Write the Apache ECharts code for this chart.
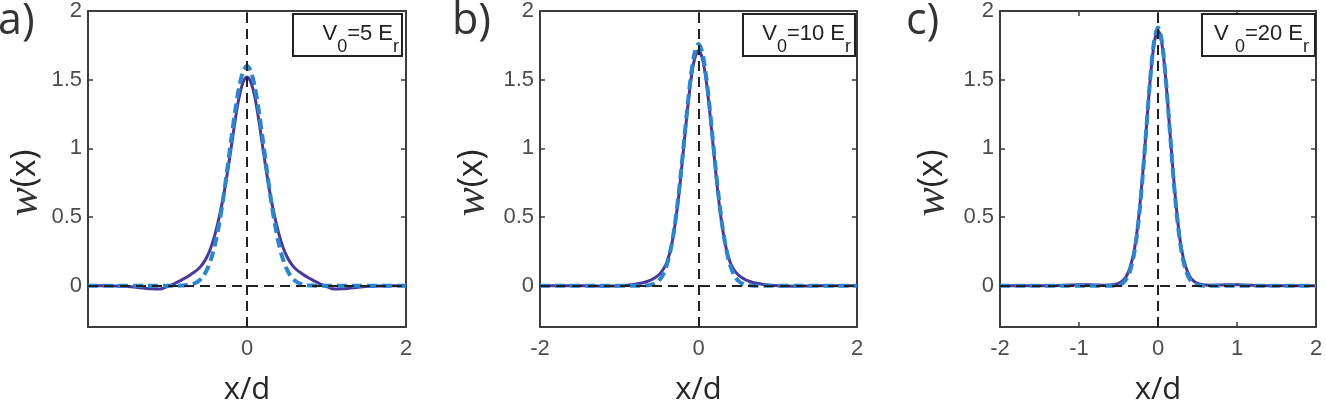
<!DOCTYPE html>
<html><head><meta charset="utf-8">
<script src="https://cdn.jsdelivr.net/npm/echarts@6/dist/echarts.min.js"></script>
<style>html,body{margin:0;padding:0;background:#fff}#c{width:1326px;height:405px}</style>
</head><body><div id="c"></div><script>
// ---- data ----
const xs = [-2,-1.9,-1.8,-1.7,-1.6,-1.5,-1.4,-1.3,-1.2,-1.1,
  -1,-0.95,-0.9,-0.85,-0.8,-0.75,-0.7,-0.65,-0.6,-0.55,-0.5,-0.45,-0.4,-0.35,-0.3,-0.25,-0.2,-0.15,-0.1,-0.05,
  0,
  0.05,0.1,0.15,0.2,0.25,0.3,0.35,0.4,0.45,0.5,0.55,0.6,0.65,0.7,0.75,0.8,0.85,0.9,0.95,1,
  1.1,1.2,1.3,1.4,1.5,1.6,1.7,1.8,1.9,2];

// panel a (V0 = 5 Er)
const wannierA = [0,0,0,-0.001,-0.003,-0.006,-0.011,-0.017,-0.022,-0.024,
  -0.005,0.007,0.02,0.034,0.05,0.066,0.085,0.105,0.13,0.165,0.215,0.285,0.38,0.50,0.64,0.81,1.00,1.20,1.37,1.48,
  1.52,
  1.48,1.37,1.20,1.00,0.81,0.64,0.50,0.38,0.285,0.215,0.165,0.13,0.105,0.085,0.066,0.05,0.034,0.02,0.007,-0.005,
  -0.024,-0.022,-0.017,-0.011,-0.006,-0.003,-0.001,0,0,0];
const gaussA = [0,0,0,0,0,0,0,0,0,0,
  0,0,0,0.001,0.002,0.005,0.010,0.020,0.039,0.070,0.121,0.197,0.306,0.451,0.631,0.839,1.058,1.268,1.443,1.559,
  1.6,
  1.559,1.443,1.268,1.058,0.839,0.631,0.451,0.306,0.197,0.121,0.070,0.039,0.020,0.010,0.005,0.002,0.001,0,0,0,
  0,0,0,0,0,0,0,0,0,0];

// panel b (V0 = 10 Er)
const wannierB = [0,0,0,0,0,0,-0.001,-0.002,-0.003,-0.002,
  0,0.002,0.004,0.007,0.011,0.016,0.022,0.031,0.042,0.058,0.08,0.115,0.17,0.27,0.43,0.65,0.93,1.22,1.48,1.65,
  1.71,
  1.65,1.48,1.22,0.93,0.65,0.43,0.27,0.17,0.115,0.08,0.058,0.042,0.031,0.022,0.016,0.011,0.007,0.004,0.002,0,
  -0.002,-0.003,-0.002,-0.001,0,0,0,0,0,0];
const gaussB = [0,0,0,0,0,0,0,0,0,0,
  0,0,0,0,0,0,0.001,0.003,0.007,0.017,0.037,0.077,0.149,0.266,0.439,0.671,0.949,1.244,1.508,1.693,
  1.76,
  1.693,1.508,1.244,0.949,0.671,0.439,0.266,0.149,0.077,0.037,0.017,0.007,0.003,0.001,0,0,0,0,0,0,
  0,0,0,0,0,0,0,0,0,0];

// panel c (V0 = 20 Er)
const wannierC = [0,0,0,0,0,0,0,0.001,0.003,0.006,
  0.008,0.008,0.008,0.007,0.006,0.005,0.004,0.004,0.005,0.009,0.017,0.035,0.07,0.14,0.26,0.47,0.77,1.13,1.49,1.76,
  1.86,
  1.76,1.49,1.13,0.77,0.47,0.26,0.14,0.07,0.035,0.017,0.009,0.005,0.004,0.004,0.005,0.006,0.007,0.008,0.008,0.008,
  0.006,0.003,0.001,0,0,0,0,0,0,0];
const gaussC = [0,0,0,0,0,0,0,0,0,0,
  0,0,0,0,0,0,0,0,0,0.002,0.006,0.018,0.049,0.115,0.241,0.451,0.754,1.125,1.496,1.776,
  1.88,
  1.776,1.496,1.125,0.754,0.451,0.241,0.115,0.049,0.018,0.006,0.002,0,0,0,0,0,0,0,0,0,
  0,0,0,0,0,0,0,0,0,0];

const yTicks = [0, 0.5, 1, 1.5, 2];
const xTicksA = [-2, 0, 2];
const xLabelsA = [0, 2];
const xTicksB = [-2, 0, 2];
const xLabelsB = [-2, 0, 2];
const xTicksC = [-2, -1, 0, 1, 2];
const xLabelsC = [-2, -1, 0, 1, 2];
const panelLetters = ['a)', 'b)', 'c)'];
const legendTexts = ['{n|V}{s|0}{n|=5 E}{s|r}', '{n|V}{s|0}{n|=10 E}{s|r}', '{n|V }{s|0}{n|=20 E}{s|r}'];
const yTitle = '{w|w}{p|(x)}';
const xTitle = 'x/d';

// ---- layout ----
const panels = [
  {left: 88, width: 318, W: wannierA, G: gaussA, xt: xTicksA, xl: xLabelsA, letterX: -2, ylabX: 25, legX: 293, legW: 109, legR: 399},
  {left: 540, width: 317, W: wannierB, G: gaussB, xt: xTicksB, xl: xLabelsB, letterX: 452, ylabX: 472, legX: 743, legW: 112, legR: 851},
  {left: 1000, width: 316, W: wannierC, G: gaussC, xt: xTicksC, xl: xLabelsC, letterX: 906, ylabX: 932, legX: 1202, legW: 113, legR: 1309}
];
const TOP = 10, H = 317;
const frame = '#3c3c3c';
const tickFont = {color: '#4d4d4d', fontSize: 22, fontFamily: 'Liberation Sans'};

const grids = [], xAxes = [], yAxes = [], series = [], graphics = [];
panels.forEach((p, i) => {
  grids.push({left: p.left, top: TOP, width: p.width, height: H, containLabel: false});
  const xBase = {type: 'value', gridIndex: i, min: -2, max: 2, splitLine: {show: false},
    axisLine: {show: true, onZero: false, lineStyle: {color: frame, width: 2}}};
  xAxes.push(Object.assign({}, xBase, {position: 'bottom',
    axisTick: {show: true, inside: true, length: 5, customValues: p.xt, lineStyle: {color: frame, width: 1.5}},
    axisLabel: Object.assign({show: true, margin: 11, customValues: p.xl}, tickFont)}));
  xAxes.push(Object.assign({}, xBase, {position: 'top',
    axisTick: {show: true, inside: true, length: 5, customValues: p.xt, lineStyle: {color: frame, width: 1.5}},
    axisLabel: {show: false}}));
  const yBase = {type: 'value', gridIndex: i, min: -0.3, max: 2, splitLine: {show: false},
    axisLine: {show: true, onZero: false, lineStyle: {color: frame, width: 2}}};
  yAxes.push(Object.assign({}, yBase, {position: 'left',
    axisTick: {show: true, inside: true, length: 5, customValues: yTicks, lineStyle: {color: frame, width: 1.5}},
    axisLabel: Object.assign({show: true, margin: 6, customValues: yTicks}, tickFont)}));
  yAxes.push(Object.assign({}, yBase, {position: 'right',
    axisTick: {show: true, inside: true, length: 5, customValues: yTicks, lineStyle: {color: frame, width: 1.5}},
    axisLabel: {show: false}}));
  const xi = 2 * i, yi = 2 * i;
  series.push({type: 'line', xAxisIndex: xi, yAxisIndex: yi, data: xs.map((x, k) => [x, p.W[k]]),
    showSymbol: false, smooth: 0.3, z: 2, silent: true, animation: false,
    lineStyle: {color: '#47399f', width: 3}});
  series.push({type: 'line', xAxisIndex: xi, yAxisIndex: yi, data: xs.map((x, k) => [x, p.G[k]]),
    showSymbol: false, smooth: 0.3, z: 3, silent: true, animation: false,
    lineStyle: {color: '#2a86d2', width: 4, type: [10, 5]}});
  series.push({type: 'line', xAxisIndex: xi, yAxisIndex: yi, data: [], z: 4, silent: true, animation: false,
    markLine: {silent: true, symbol: ['none', 'none'], label: {show: false}, animation: false,
      lineStyle: {color: '#222', width: 2, type: [10, 6]},
      data: [{xAxis: 0}, {yAxis: 0}]}});
  graphics.push({type: 'text', x: p.letterX, y: 22, style: {text: panelLetters[i], font: '43px "Open Sans"', fill: '#333',
    textAlign: 'left', textVerticalAlign: 'middle'}});
  graphics.push({type: 'text', x: p.ylabX, y: 183, rotation: Math.PI / 2, style: {text: yTitle,
    textAlign: 'center', textVerticalAlign: 'middle',
    rich: {w: {fontSize: 44, fontFamily: '"Liberation Serif", serif', fontStyle: 'italic', fill: '#333'},
           p: {fontSize: 34, fontFamily: '"Open Sans"', fill: '#262626'}}}});
  graphics.push({type: 'text', x: p.left + p.width / 2, y: 390, style: {text: xTitle,
    font: '31px "Open Sans"', fill: '#262626', textAlign: 'center', textVerticalAlign: 'middle'}});
  graphics.push({type: 'rect', shape: {x: p.legX, y: 14, width: p.legW, height: 42}, z: 10,
    style: {fill: '#fff', stroke: '#222', lineWidth: 2}});
  graphics.push({type: 'text', x: p.legR, y: 34, z: 11, style: {text: legendTexts[i], textAlign: 'right', textVerticalAlign: 'middle',
    rich: {n: {fontSize: 22, fontFamily: 'Liberation Sans', fill: '#222'},
           s: {fontSize: 18, fontFamily: 'Liberation Sans', fill: '#222', padding: [26, 0, 0, 0]}}}});
});

const chart = echarts.init(document.getElementById('c'), null, {renderer: 'canvas'});
chart.setOption({animation: false, backgroundColor: '#fff', grid: grids, xAxis: xAxes, yAxis: yAxes, series: series, graphic: graphics});
</script></body></html>
